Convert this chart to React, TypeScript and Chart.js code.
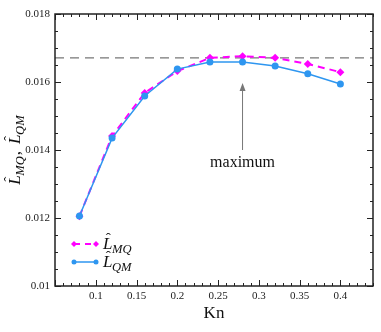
import React, { useEffect, useRef } from 'react';
import { Chart, registerables } from 'chart.js';
Chart.register(...registerables);

const knValues = [0.08, 0.12, 0.16, 0.2, 0.24, 0.28, 0.32, 0.36, 0.4];
const lMQ = [0.01205, 0.01441, 0.01568, 0.01632, 0.01671, 0.01676, 0.01671, 0.01653, 0.01629];
const lQM = [0.01206, 0.01435, 0.01559, 0.01638, 0.01659, 0.01659, 0.01647, 0.01624, 0.01594];
const maxLevel = 0.01671;
const xRange = [0.05, 0.44];
const yRange = [0.01, 0.018];
const xTickLabels = [0.1, 0.15, 0.2, 0.25, 0.3, 0.35, 0.4];
const yTickLabels = [0.01, 0.012, 0.014, 0.016, 0.018];
const arrowX = 0.28;
const arrowFrom = 0.0140;
const arrowTo = 0.01597;
const annotationY = 0.01362;
const annotationText = 'maximum';
const xTitle = 'Kn';

const MAG = '#ff00ff';
const BLUE = '#2e96f0';
const SERIF = '"Liberation Serif", "Times New Roman", serif';

function drawLHat(ctx: CanvasRenderingContext2D, x: number, y: number, sub: string, size: number): number {
  ctx.save();
  ctx.textBaseline = 'alphabetic';
  ctx.textAlign = 'left';
  ctx.font = `italic ${size}px ${SERIF}`;
  ctx.fillText('L', x, y);
  const lw = ctx.measureText('L').width;
  ctx.font = `${size * 0.9}px ${SERIF}`;
  ctx.fillText('\u02C6', x + lw * 0.3, y - size * 0.36);
  ctx.font = `italic ${size * 0.74}px ${SERIF}`;
  ctx.fillText(sub, x + lw * 0.95, y + size * 0.22);
  const sw = ctx.measureText(sub).width;
  ctx.restore();
  return lw * 0.95 + sw;
}

function measureLHat(ctx: CanvasRenderingContext2D, sub: string, size: number): number {
  ctx.save();
  ctx.font = `italic ${size}px ${SERIF}`;
  const lw = ctx.measureText('L').width;
  ctx.font = `italic ${size * 0.74}px ${SERIF}`;
  const sw = ctx.measureText(sub).width;
  ctx.restore();
  return lw * 0.95 + sw;
}

const customPlugin = {
  id: 'custom',
  afterDraw(chart: any) {
    const ctx: CanvasRenderingContext2D = chart.ctx;
    const { left, right, top, bottom } = chart.chartArea;
    const xs = chart.scales.x;
    const ys = chart.scales.y;
    ctx.save();
    // frame
    ctx.strokeStyle = '#222';
    ctx.lineWidth = 1.5;
    ctx.strokeRect(left, top, right - left, bottom - top);
    // ticks
    ctx.lineWidth = 1;
    for (let i = 5; i <= 44; i++) {
      const v = i / 100;
      const px = Math.round(xs.getPixelForValue(v)) + 0.5;
      const len = i % 5 === 0 ? 6 : 3;
      ctx.beginPath();
      ctx.moveTo(px, bottom);
      ctx.lineTo(px, bottom - len);
      ctx.moveTo(px, top);
      ctx.lineTo(px, top + len);
      ctx.stroke();
    }
    for (let i = 0; i <= 16; i++) {
      const v = 0.01 + i * 0.0005;
      const py = Math.round(ys.getPixelForValue(v)) + 0.5;
      const len = i % 4 === 0 ? 6 : 3;
      ctx.beginPath();
      ctx.moveTo(left, py);
      ctx.lineTo(left + len, py);
      ctx.moveTo(right, py);
      ctx.lineTo(right - len, py);
      ctx.stroke();
    }
    // arrow
    const ax = xs.getPixelForValue(arrowX);
    const ay0 = ys.getPixelForValue(arrowFrom);
    const ay1 = ys.getPixelForValue(arrowTo);
    ctx.strokeStyle = '#777';
    ctx.fillStyle = '#777';
    ctx.lineWidth = 1;
    ctx.beginPath();
    ctx.moveTo(ax, ay0);
    ctx.lineTo(ax, ay1 + 6);
    ctx.stroke();
    ctx.beginPath();
    ctx.moveTo(ax, ay1);
    ctx.lineTo(ax - 3, ay1 + 8);
    ctx.lineTo(ax + 3, ay1 + 8);
    ctx.closePath();
    ctx.fill();
    // annotation text
    ctx.fillStyle = '#111';
    ctx.font = `16px ${SERIF}`;
    ctx.textAlign = 'center';
    ctx.textBaseline = 'middle';
    ctx.fillText(annotationText, ax, ys.getPixelForValue(annotationY));
    // x title
    ctx.font = `17px ${SERIF}`;
    ctx.fillText(xTitle, (left + right) / 2, 314);
    // y title
    ctx.save();
    ctx.translate(15, (top + bottom) / 2);
    ctx.rotate(-Math.PI / 2);
    const size = 17;
    const w1 = measureLHat(ctx, 'MQ', size);
    ctx.font = `${size}px ${SERIF}`;
    const cw = ctx.measureText(',').width + 8;
    const w2 = measureLHat(ctx, 'QM', size);
    let cx = -(w1 + cw + w2) / 2;
    ctx.fillStyle = '#111';
    drawLHat(ctx, cx, 5, 'MQ', size);
    cx += w1;
    ctx.font = `${size}px ${SERIF}`;
    ctx.textAlign = 'left';
    ctx.textBaseline = 'alphabetic';
    ctx.fillText(',', cx + 1, 5);
    cx += cw;
    drawLHat(ctx, cx, 5, 'QM', size);
    ctx.restore();
    // legend
    const rows = [
      { sub: 'MQ', color: MAG, dash: [6, 5], y: 244, style: 'diamond' },
      { sub: 'QM', color: BLUE, dash: [], y: 262, style: 'circle' },
    ];
    for (const r of rows) {
      ctx.strokeStyle = r.color;
      ctx.fillStyle = r.color;
      ctx.lineWidth = r.style === 'diamond' ? 2 : 1.5;
      ctx.setLineDash(r.dash);
      ctx.beginPath();
      ctx.moveTo(74, r.y);
      ctx.lineTo(96, r.y);
      ctx.stroke();
      ctx.setLineDash([]);
      for (const px of [74, 96]) {
        ctx.beginPath();
        if (r.style === 'diamond') {
          ctx.moveTo(px, r.y - 3);
          ctx.lineTo(px + 3, r.y);
          ctx.lineTo(px, r.y + 3);
          ctx.lineTo(px - 3, r.y);
          ctx.closePath();
        } else {
          ctx.arc(px, r.y, 2.5, 0, Math.PI * 2);
        }
        ctx.fill();
      }
      ctx.fillStyle = '#111';
      drawLHat(ctx, 103, r.y + 5, r.sub, 17);
    }
    ctx.restore();
  },
};

export default function App() {
  const ref = useRef<HTMLCanvasElement>(null);
  useEffect(() => {
    document.body.style.margin = '0';
    const canvas = ref.current!;
    const chart = new Chart(canvas, {
      type: 'line',
      data: {
        datasets: [
          {
            label: 'QM',
            data: knValues.map((x, i) => ({ x, y: lQM[i] })),
            borderColor: BLUE,
            backgroundColor: BLUE,
            borderWidth: 1.5,
            pointStyle: 'circle',
            pointRadius: 3.5,
            pointBorderWidth: 0,
            order: 0,
          },
          {
            label: 'MQ',
            data: knValues.map((x, i) => ({ x, y: lMQ[i] })),
            borderColor: MAG,
            backgroundColor: MAG,
            borderWidth: 2,
            borderDash: [7, 5],
            pointStyle: 'rectRot',
            pointRadius: 4,
            pointBorderWidth: 0,
            order: 1,
          },
          {
            label: 'max',
            data: [{ x: xRange[0], y: maxLevel }, { x: xRange[1], y: maxLevel }],
            borderColor: '#777',
            borderWidth: 1.2,
            borderDash: [9, 6],
            pointRadius: 0,
            order: 2,
          },
        ],
      },
      options: {
        animation: false,
        responsive: false,
        devicePixelRatio: 1,
        layout: { padding: { left: 0, top: 14, right: 8, bottom: 0 } },
        plugins: { legend: { display: false }, tooltip: { enabled: false } },
        scales: {
          x: {
            type: 'linear',
            min: xRange[0],
            max: xRange[1],
            grid: { display: false, drawTicks: false, tickLength: 0 },
            border: { display: false },
            afterBuildTicks: (s: any) => { s.ticks = xTickLabels.map((v) => ({ value: v })); },
            afterFit: (s: any) => { s.height = 46; },
            ticks: {
              padding: 4,
              color: '#222',
              font: { family: SERIF, size: 11 },
              maxRotation: 0,
              callback: (v: any) => String(Number(v)),
            },
          },
          y: {
            type: 'linear',
            min: yRange[0],
            max: yRange[1],
            grid: { display: false, drawTicks: false, tickLength: 0 },
            border: { display: false },
            afterBuildTicks: (s: any) => { s.ticks = yTickLabels.map((v) => ({ value: v })); },
            afterFit: (s: any) => { s.width = 55; },
            ticks: {
              padding: 5,
              color: '#222',
              font: { family: SERIF, size: 11 },
              callback: (v: any) => String(Number(v)),
            },
          },
        },
      },
      plugins: [customPlugin],
    });
    return () => chart.destroy();
  }, []);
  return (
    <div style={{ width: 381, height: 332 }}>
      <canvas ref={ref} width={381} height={332} style={{ display: 'block', width: 381, height: 332 }} />
    </div>
  );
}
